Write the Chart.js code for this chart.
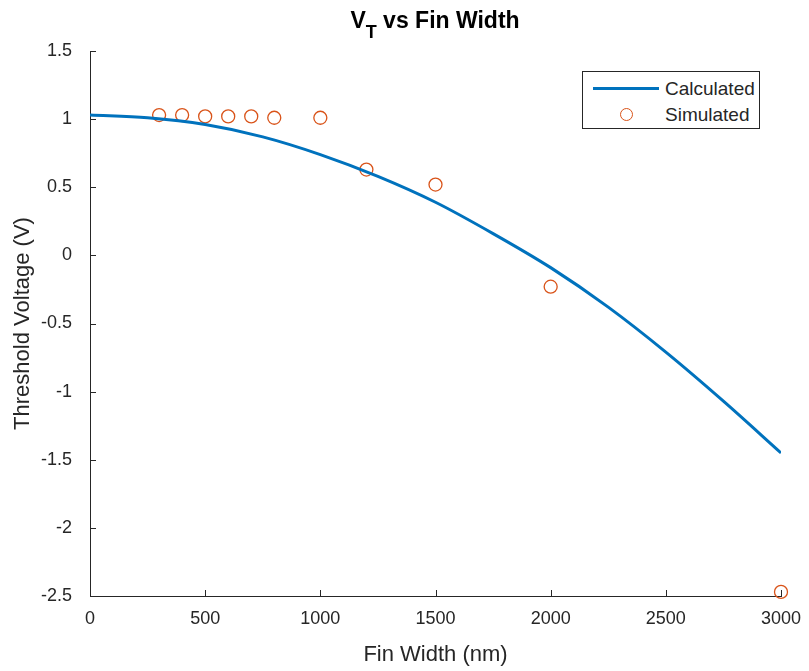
<!DOCTYPE html>
<html>
<head>
<meta charset="utf-8">
<title>VT vs Fin Width</title>
<script src="https://cdn.jsdelivr.net/npm/chart.js@4.4.1/dist/chart.umd.min.js"></script>
<style>
  body { margin: 0; background: #fff; }
  #wrap { position: relative; width: 809px; height: 671px; font-family: 'Liberation Sans', Arial, sans-serif; }
  #title { position: absolute; left: 435px; top: 9px; transform: translateX(-50%); font-weight: bold; font-size: 23px; line-height: 23px; color: #000; white-space: nowrap; }
  #title span { font-size: 18px; position: relative; top: 10px; }
  #legend { position: absolute; left: 582px; top: 71px; width: 178px; height: 58px; border: 1px solid #262626; background: #fff; box-sizing: border-box; color: #262626; font-size: 19px; }
  .row { position: absolute; left: 0; height: 24px; line-height: 24px; }
  .lbl { position: absolute; left: 82px; white-space: nowrap; }
  .lineSample { position: absolute; left: 10px; top: 10px; width: 66px; height: 3px; background: #0072BD; }
  .circSample { position: absolute; left: 37px; top: 5px; width: 13px; height: 13px; border: 1.3px solid #D95319; border-radius: 50%; box-sizing: border-box; }
</style>
</head>
<body>
<div id="wrap">
  <canvas id="myChart" width="809" height="671"></canvas>
  <div id="title">V<span>T</span> vs Fin Width</div>
  <div id="legend">
    <div class="row" style="top:5px; width:100%;"><div class="lineSample"></div><div class="lbl">Calculated</div></div>
    <div class="row" style="top:31px; width:100%;"><div class="circSample"></div><div class="lbl">Simulated</div></div>
  </div>
</div>
<script>
// calculated curve (nm, V)
const calcWidth = [0, 250, 500, 750, 1000, 1250, 1500, 1750, 2000, 2250, 2500, 2750, 3000];
const calcVt = [1.03, 1.01, 0.96, 0.87, 0.74, 0.58, 0.39, 0.16, -0.09, -0.38, -0.71, -1.07, -1.45];

// simulated points (nm, V)
const simWidth = [300, 400, 500, 600, 700, 800, 1000, 1200, 1500, 2000, 3000];
const simVt = [1.03, 1.03, 1.02, 1.02, 1.02, 1.01, 1.01, 0.63, 0.52, -0.23, -2.47];

const xTicks = [0, 500, 1000, 1500, 2000, 2500, 3000];
const yTicks = [-2.5, -2, -1.5, -1, -0.5, 0, 0.5, 1, 1.5];

const axisColor = '#262626';
const fontFam = "'Liberation Sans', Arial, sans-serif";

// matlab style ticks pointing inside the axes
const innerTicks = {
  id: 'innerTicks',
  afterDraw(chart) {
    const ctx = chart.ctx;
    const x = chart.scales.x, y = chart.scales.y;
    const area = chart.chartArea;
    ctx.save();
    ctx.strokeStyle = axisColor;
    ctx.lineWidth = 1;
    ctx.beginPath();
    xTicks.forEach(v => {
      const px = Math.round(x.getPixelForValue(v)) + 0.5;
      ctx.moveTo(px, area.bottom);
      ctx.lineTo(px, area.bottom - 6);
    });
    yTicks.forEach(v => {
      const py = Math.round(y.getPixelForValue(v)) + 0.5;
      ctx.moveTo(area.left, py);
      ctx.lineTo(area.left + 6, py);
    });
    ctx.stroke();
    ctx.restore();
  }
};

const ctx = document.getElementById('myChart');

const myChart = new Chart(ctx, {
  type: 'scatter',
  data: {
    datasets: [{
      label: 'Calculated',
      data: calcWidth.map((w, i) => ({ x: w, y: calcVt[i] })),
      showLine: true,
      borderColor: '#0072BD',
      borderWidth: 3,
      pointRadius: 0,
      cubicInterpolationMode: 'monotone',
      fill: false
    }, {
      label: 'Simulated',
      data: simWidth.map((w, i) => ({ x: w, y: simVt[i] })),
      showLine: false,
      pointStyle: 'circle',
      pointRadius: 6.5,
      pointBorderWidth: 1.3,
      pointBorderColor: '#D95319',
      pointBackgroundColor: 'rgba(0,0,0,0)',
      clip: false
    }]
  },
  options: {
    responsive: false,
    animation: false,
    events: [],
    layout: { padding: { top: 51, right: 28, left: 0, bottom: 0 } },
    plugins: {
      legend: { display: false },
      title: { display: false },
      tooltip: { enabled: false }
    },
    scales: {
      x: {
        type: 'linear',
        min: 0,
        max: 3000,
        afterBuildTicks: s => { s.ticks = xTicks.map(v => ({ value: v })); },
        afterFit: s => { s.height = 75; },
        grid: { display: false },
        border: { display: true, color: axisColor, width: 1 },
        ticks: {
          color: axisColor,
          padding: 4,
          maxRotation: 0,
          font: { family: fontFam, size: 18 },
          callback: v => String(v)
        },
        title: {
          display: true,
          text: 'Fin Width (nm)',
          color: axisColor,
          font: { family: fontFam, size: 22 },
          padding: { top: 0, bottom: 3 }
        }
      },
      y: {
        type: 'linear',
        min: -2.5,
        max: 1.5,
        afterBuildTicks: s => { s.ticks = yTicks.map(v => ({ value: v })); },
        afterFit: s => { s.width = 90; },
        grid: { display: false },
        border: { display: true, color: axisColor, width: 1 },
        ticks: {
          color: axisColor,
          padding: 10,
          font: { family: fontFam, size: 18 },
          callback: v => String(v)
        },
        title: {
          display: true,
          text: 'Threshold Voltage (V)',
          color: axisColor,
          font: { family: fontFam, size: 22 },
          padding: { top: 10, bottom: 0 }
        }
      }
    }
  },
  plugins: [innerTicks]
});
</script>
</body>
</html>
